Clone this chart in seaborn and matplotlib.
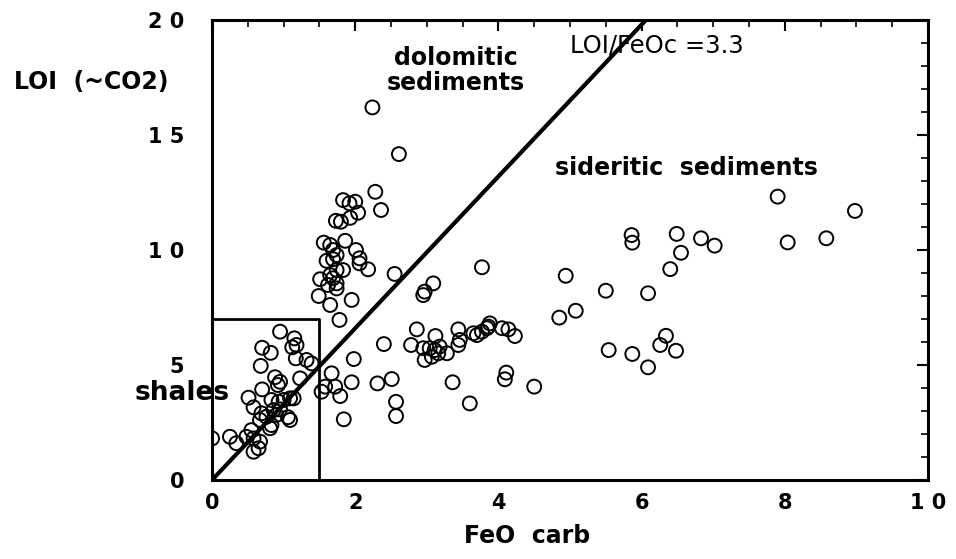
import seaborn as sns
import matplotlib.pyplot as plt
import pandas as pd

# FeO carb (x) and LOI (y)
feo_carb = [2.24, 2.61, 2.28, 2.36, 1.83, 1.92, 2.00, 2.04, 1.93, 1.73, 1.80, 1.56, 1.65, 1.86,
            1.69, 1.74, 1.69, 1.60, 2.01, 2.06, 2.06, 2.18, 1.83, 1.74, 1.65, 1.51, 1.69, 1.74,
            1.62, 1.74, 2.55, 1.49, 1.65, 1.95, 1.78,
            3.77, 3.09, 2.97, 2.95, 4.94, 5.50, 6.09, 4.85, 5.08, 5.86, 5.87, 6.49, 6.55, 6.40,
            6.83, 7.02, 7.90, 8.04, 8.58, 8.98,
            2.86, 3.12, 3.44, 2.40, 2.78, 2.95, 3.04, 3.11, 3.18, 3.28, 2.97, 3.07, 3.16, 3.46,
            3.44, 3.65, 3.70, 3.77, 3.84, 3.88, 3.86, 4.05, 4.14, 4.23, 5.54, 5.87, 6.09, 6.26,
            6.34, 6.48,
            1.98, 1.67, 1.95, 1.58, 1.53, 1.72, 1.79, 2.31, 2.51, 2.57, 2.57, 1.84, 3.36, 3.60,
            4.11, 4.09, 4.50,
            0.95, 1.15, 1.18, 1.12, 0.70, 0.82, 1.17, 1.32, 1.39, 0.68, 0.88, 0.95, 0.92, 1.23,
            0.70, 0.51, 0.58, 0.83, 0.93, 1.00, 1.09, 1.14, 0.69, 0.76, 0.67, 0.86, 0.95, 0.90,
            1.06, 1.09, 0.83, 0.81, 0.55, 0.48, 0.58, 0.67, 0.65, 0.58, 0.25, 0.34, 0.00]
loi = [16.20, 14.17, 12.53, 11.74, 12.17, 12.03, 12.10, 11.62, 11.40, 11.27, 11.23, 10.32, 10.22, 10.40,
       10.00, 9.78, 9.60, 9.53, 10.00, 9.64, 9.42, 9.16, 9.13, 9.13, 8.91, 8.73, 8.77, 8.55,
       8.48, 8.33, 8.96, 8.00, 7.61, 7.83, 6.96,
       9.25, 8.55, 8.19, 8.04, 8.88, 8.23, 8.12, 7.06, 7.36, 10.65, 10.32, 10.70, 9.88, 9.17,
       10.51, 10.19, 12.32, 10.33, 10.51, 11.70,
       6.55, 6.26, 6.55, 5.91, 5.87, 5.73, 5.73, 5.65, 5.80, 5.51, 5.22, 5.36, 5.51, 6.09,
       5.87, 6.38, 6.30, 6.45, 6.60, 6.81, 6.67, 6.60, 6.55, 6.26, 5.65, 5.48, 4.90, 5.87,
       6.27, 5.62,
       5.26, 4.64, 4.25, 4.06, 3.84, 4.06, 3.65, 4.20, 4.39, 3.40, 2.78, 2.64, 4.25, 3.33,
       4.67, 4.38, 4.06,
       6.45, 6.16, 5.87, 5.77, 5.75, 5.53, 5.29, 5.22, 5.07, 4.96, 4.47, 4.27, 4.13, 4.42,
       3.94, 3.58, 3.16, 3.48, 3.40, 3.48, 3.55, 3.55, 2.90, 2.75, 2.61, 3.04, 3.07, 2.83,
       2.73, 2.61, 2.39, 2.25, 2.17, 1.88, 1.81, 1.67, 1.38, 1.23, 1.88, 1.60, 1.81]

ratio = 3.3
line_x = [0, 20 / ratio]
shale_x = [0, 1.5]
shale_y = [0, 7]

x_ticks = [0, 2, 4, 6, 8, 10]
x_labels = ["0", "2", "4", "6", "8", "1 0"]
y_ticks = [0, 5, 10, 15, 20]
y_labels = ["0", "5", "1 0", "1 5", "2 0"]

df = pd.DataFrame({"FeO carb": feo_carb, "LOI": loi})

sns.set_style("white")
plt.rcParams["font.family"] = ["DejaVu Sans"]
plt.rcParams["font.weight"] = "bold"
for key in ["text.color", "axes.labelcolor", "xtick.color", "ytick.color"]:
    plt.rcParams[key] = "black"

fig = plt.figure(figsize=(9.56, 5.59), dpi=100)
ax = fig.add_axes([0.2218, 0.1413, 0.7489, 0.8229])

sns.scatterplot(data=df, x="FeO carb", y="LOI", ax=ax, marker="o", s=100,
                fc="none", ec="black", linewidth=1.4, zorder=3)

# ratio line and shale box
sns.lineplot(x=line_x, y=[v * ratio for v in line_x], ax=ax, color="black", lw=3, zorder=4)
ax.plot([shale_x[0], shale_x[1], shale_x[1], shale_x[0]],
        [shale_y[1], shale_y[1], shale_y[0], shale_y[0]], color="black", lw=2)

ax.set_xlim(0, 10)
ax.set_ylim(0, 20)
ax.set_xticks(x_ticks)
ax.set_xticklabels(x_labels)
ax.set_yticks(y_ticks)
ax.set_yticklabels(y_labels)
ax.set_xticks([i * 0.5 for i in range(21)], minor=True)
ax.set_yticks(list(range(21)), minor=True)
ax.tick_params(which="both", direction="in", top=True, right=True, color="black")
ax.tick_params(which="major", length=8, width=1.5, labelsize=15, labelcolor="black")
ax.tick_params(which="minor", length=5, width=1.2)
ax.tick_params(axis="y", which="major", pad=20)
ax.tick_params(axis="x", which="major", pad=9)
for lab in ax.get_xticklabels() + ax.get_yticklabels():
    lab.set_fontweight("bold")
for sp in ax.spines.values():
    sp.set_linewidth(2.2)
    sp.set_color("black")

ax.set_xlabel("FeO  carb", fontsize=17, fontweight="bold", color="black")
ax.xaxis.set_label_coords(0.44, -0.095)
ax.set_ylabel("LOI  (~CO2)", fontsize=17, fontweight="bold", color="black",
              rotation=0, ha="center", va="center")
ax.yaxis.set_label_coords(-0.169, 0.865)

ax.text(3.4, 17.8, "dolomitic\nsediments", fontsize=17, fontweight="bold",
        ha="center", va="center", linespacing=1.05)
ax.text(5.0, 18.9, "LOI/FeOc =3.3", fontsize=17.5, fontweight="normal", ha="left", va="center")
ax.text(4.79, 13.57, "sideritic  sediments", fontsize=17, fontweight="bold", ha="left", va="center")
ax.text(-1.08, 3.8, "shales", fontsize=19, fontweight="bold", ha="left", va="center", zorder=5)

fig.savefig("out.png", dpi=100)
